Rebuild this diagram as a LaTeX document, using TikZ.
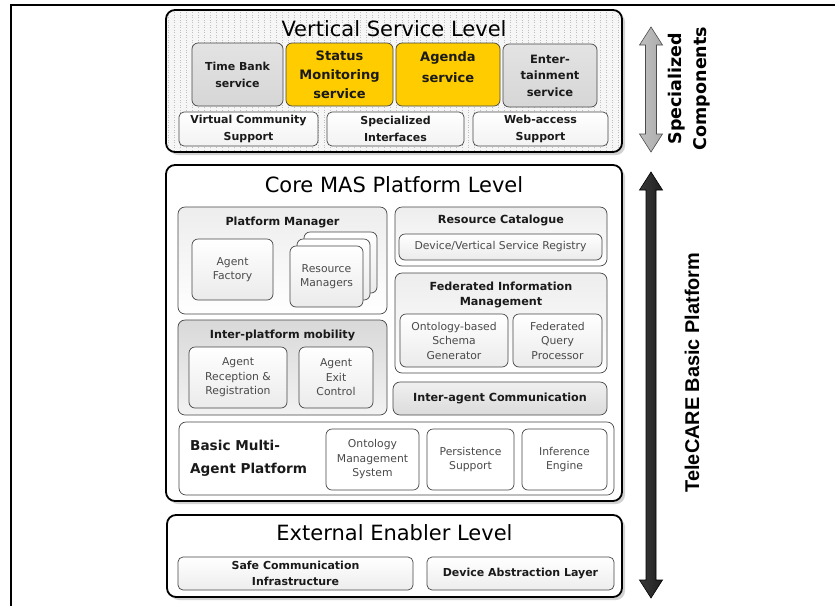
\documentclass[tikz,border=0pt]{standalone}
\usepackage{fontspec}
\setmainfont{DejaVu Sans}
\newfontfamily\arialfont{Liberation Sans}
\usetikzlibrary{shadows}
\newcommand\myfs[2]{\fontsize{#1}{#2}\selectfont}
\definecolor{amber}{HTML}{FFCC00}
\definecolor{txtgray}{HTML}{4A4A4A}
\definecolor{txtdark}{HTML}{1A1A1A}
\begin{document}
\begin{tikzpicture}[x=1pt,y=-1pt,
  lvlbox/.style={draw=black, line width=1.8pt, rounded corners=9pt, fill=white, inner sep=0, outer sep=0,
     drop shadow={shadow xshift=3pt, shadow yshift=-3pt, fill=gray!70}},
  lvltitle/.style={font=\myfs{21}{24}, text=black, inner sep=0},
  boxbase/.style={inner sep=0, outer sep=0, align=center, line width=0.7pt},
  svc/.style={boxbase, draw=gray!55!black, rounded corners=6pt, top color=gray!22, bottom color=gray!32,
     font=\bfseries\myfs{11}{17}, text=txtdark},
  svcy/.style={boxbase, draw=gray!55!black, rounded corners=6pt, fill=amber,
     font=\bfseries\myfs{13}{19}, text=txtdark},
  svcw/.style={boxbase, draw=gray!55!black, rounded corners=5pt, top color=white, bottom color=gray!10,
     font=\bfseries\myfs{11}{17}, text=txtdark},
  grp/.style={boxbase, draw=gray!55!black, rounded corners=7pt, top color=gray!14, bottom color=white},
  grpd/.style={boxbase, draw=gray!55!black, rounded corners=7pt, top color=gray!30, bottom color=gray!10},
  itm/.style={boxbase, draw=gray!55!black, rounded corners=6pt, top color=white, bottom color=gray!16,
     font=\myfs{10.8}{14.5}, text=txtgray},
  grplabel/.style={font=\bfseries\myfs{11.2}{15}, text=txtdark, align=center, inner sep=0},
  flat/.style={boxbase, draw=gray!55!black, rounded corners=5pt, top color=white, bottom color=gray!14,
     font=\bfseries\myfs{11}{16}, text=txtdark}
]
\useasboundingbox (0,0) rectangle (835,606);

% page frame (top and left edges)
\draw[line width=2pt] (835,5) -- (11,5) -- (11,606);

% ================= Vertical Service Level =================
\node[lvlbox, fill=gray!7, minimum width=456, minimum height=142] (vsl) at (394,81) {};
\begin{scope}
  \clip[rounded corners=8pt] (167,11) rectangle (621,151);
  \draw[gray!50, line width=0.4pt, dash pattern=on 0.5pt off 2pt, step=6] (160,4) grid (630,160);
\end{scope}
\node[lvltitle] (vslT) at (394,29) {Vertical Service Level};

\node[svc, minimum width=91, minimum height=63] (tb) at (237.5,74.5) {Time Bank\\service};
\node[svcy, minimum width=107, minimum height=63] (sm) at (339.5,74.5) {Status\\Monitoring\\service};
\node[svcy, minimum width=104, minimum height=63] (ag) at (448,74.5) {};
\node[font=\bfseries\myfs{13}{21}, text=txtdark, align=center, inner sep=0] (agT) at (448,67) {Agenda\\service};
\node[svc, font=\bfseries\myfs{11.5}{16.5}, minimum width=94, minimum height=63] (en) at (550,75.5) {Enter-\\tainment\\service};

\node[svcw, minimum width=139, minimum height=34] (vc) at (248.5,129) {Virtual Community\\Support};
\node[svcw, minimum width=137, minimum height=34] (si) at (395.5,129) {Specialized\\Interfaces};
\node[svcw, minimum width=135, minimum height=34] (wa) at (540.5,129) {Web-access\\Support};

% ================= Core MAS Platform Level =================
\node[lvlbox, minimum width=456, minimum height=336] (core) at (394,333) {};
\node[lvltitle] (coreT) at (394,185) {Core MAS Platform Level};

% Platform Manager
\node[grp, minimum width=209, minimum height=107] (pm) at (282.5,260.5) {};
\node[grplabel] (pmT) at (282.5,222) {Platform Manager};
\node[itm, minimum width=81, minimum height=61] (af) at (232.5,269.5) {Agent\\Factory};
\node[itm, minimum width=73, minimum height=61] (rm3) at (340.5,262.5) {};
\node[itm, minimum width=73, minimum height=61] (rm2) at (333.5,269.5) {};
\node[itm, minimum width=73, minimum height=61] (rm1) at (326.5,276.5) {Resource\\Managers};

% Resource Catalogue
\node[grp, minimum width=212, minimum height=59] (rc) at (501,236.5) {};
\node[grplabel] (rcT) at (501,220) {Resource Catalogue};
\node[itm, minimum width=203, minimum height=26] (dvr) at (500.5,247) {Device/Vertical Service Registry};

% Federated Information Management
\node[grp, minimum width=212, minimum height=100] (fim) at (501,323) {};
\node[grplabel] (fimT) at (501,295) {Federated Information\\Management};
\node[itm, minimum width=108, minimum height=53] (osg) at (454,340.5) {Ontology-based\\Schema\\Generator};
\node[itm, minimum width=89, minimum height=53] (fqp) at (557.5,340.5) {Federated\\Query\\Processor};

% Inter-agent Communication
\node[grpd, top color=gray!12, bottom color=gray!28, minimum width=214, minimum height=33,
      font=\bfseries\myfs{11.2}{15}, text=txtdark] (iac) at (500,398.5) {Inter-agent Communication};

% Inter-platform mobility
\node[grpd, minimum width=209, minimum height=95] (ipm) at (282.5,367.5) {};
\node[grplabel] (ipmT) at (282.5,335) {Inter-platform mobility};
\node[itm, minimum width=98, minimum height=61] (arr) at (238,377.5) {Agent\\Reception \&\\Registration};
\node[itm, minimum width=74, minimum height=61] (aec) at (336,377.5) {Agent\\Exit\\Control};

% Basic Multi-Agent Platform
\node[grp, top color=white, bottom color=white, minimum width=435, minimum height=73] (bmap) at (396.5,458.5) {};
\node[font=\bfseries\myfs{13.6}{23}, text=txtdark, align=left, anchor=west, inner sep=0] (bmapT) at (190,458.5) {Basic Multi-\\Agent Platform};
\node[itm, top color=white, bottom color=white, minimum width=93, minimum height=61] (oms) at (372.5,459.5) {Ontology\\Management\\System};
\node[itm, top color=white, bottom color=white, minimum width=87, minimum height=61] (ps) at (470.5,459.5) {Persistence\\Support};
\node[itm, top color=white, bottom color=white, minimum width=85, minimum height=61] (ie) at (564.5,459.5) {Inference\\Engine};

% ================= External Enabler Level =================
\node[lvlbox, minimum width=455, minimum height=82] (ext) at (394.5,556) {};
\node[lvltitle] (extT) at (394.5,533) {External Enabler Level};
\node[flat, minimum width=235, minimum height=33] (sci) at (295.5,573.5) {Safe Communication\\Infrastructure};
\node[flat, minimum width=187, minimum height=33] (dal) at (520.5,573.5) {Device Abstraction Layer};

% ================= Side arrows =================
\path[draw=gray!60!black, line width=0.6pt, left color=gray!50, right color=gray!65]
  (651,27) -- (662.5,45) -- (656.5,45) -- (656.5,134) -- (662.5,134) -- (651,152)
  -- (639.5,134) -- (645.5,134) -- (645.5,45) -- (639.5,45) -- cycle;
\path[draw=black, line width=0.6pt, left color=gray!45!black, right color=gray!25!black]
  (651,172) -- (662.5,190) -- (656,190) -- (656,580) -- (662.5,580) -- (651,598)
  -- (639.5,580) -- (646,580) -- (646,190) -- (639.5,190) -- cycle;

\node[rotate=90, font=\bfseries\myfs{17.5}{25}, align=center, inner sep=0] (spc) at (689,88.5) {Specialized\\Components};
\node[rotate=90, font=\arialfont\bfseries\myfs{19.9}{22}, inner sep=0] (tbp) at (692,372.5) {TeleCARE Basic Platform};
\end{tikzpicture}
\end{document}
